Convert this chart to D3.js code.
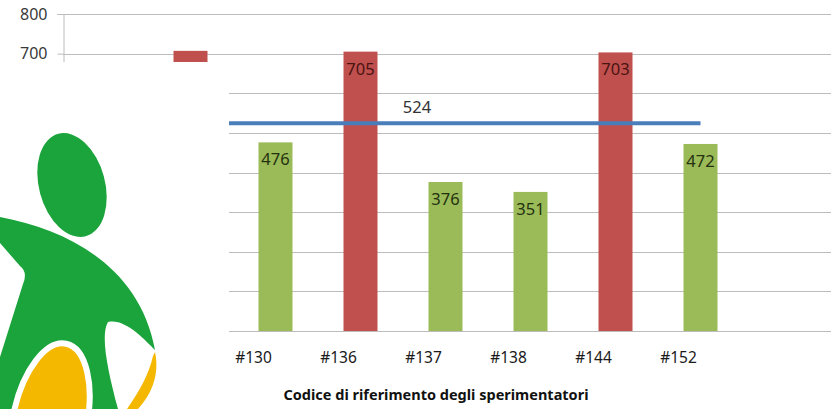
<!DOCTYPE html>
<html>
<head>
<meta charset="utf-8">
<script src="https://cdn.jsdelivr.net/npm/d3@7"></script>
<style>
  body { margin: 0; background: #fff; }
  svg { display: block; font-family: "Noto Sans", "Open Sans", sans-serif; }
</style>
</head>
<body>
<svg id="chart" width="831" height="409"></svg>
<script>
// chart data (the two first categories sit under the logo)
const tickLabels = ["", "", "#130", "#136", "#137", "#138", "#144", "#152", ""];
const values = [null, 707, 476, 705, 376, 351, 703, 472, null];
const yTicks = [0, 100, 200, 300, 400, 500, 600, 700, 800];
const average = 524;
const axisTitle = "Codice di riferimento degli sperimentatori";

const colors = {
    green: "#9bbb59",
    red: "#c0504d",
    line: "#4a7ebb",
    grid: "#bcbcbc",
    logoGreen: "#1ba43b",
    logoYellow: "#f5b800"
};

const svg = d3.select("#chart");
const plotLeft = 63, plotRight = 828, plotTop = 14, plotBottom = 331;

const x = d3.scaleBand()
    .domain(d3.range(tickLabels.length))
    .range([plotLeft, plotRight])
    .paddingInner(0.6)
    .paddingOuter(0.3);

const y = d3.scaleLinear()
    .domain([0, 800])
    .range([plotBottom, plotTop]);

// gridlines
svg.append("g")
    .selectAll("line")
    .data(yTicks)
    .join("line")
    .attr("x1", plotLeft)
    .attr("x2", 831)
    .attr("y1", d => Math.round(y(d)) + 0.5)
    .attr("y2", d => Math.round(y(d)) + 0.5)
    .attr("stroke", colors.grid)
    .attr("stroke-width", 1);

// bars: above the average in red, below in green
const bars = values.map((v, i) => ({ i, v })).filter(d => d.v != null);

svg.append("g")
    .selectAll("rect")
    .data(bars)
    .join("rect")
    .attr("x", d => x(d.i))
    .attr("width", x.bandwidth())
    .attr("y", d => y(d.v))
    .attr("height", d => y(0) - y(d.v))
    .attr("fill", d => d.v > average ? colors.red : colors.green);

// value labels only for the bars that are not hidden by the logo
svg.append("g")
    .selectAll("text")
    .data(bars.filter(d => tickLabels[d.i] !== ""))
    .join("text")
    .attr("x", d => x(d.i) + x.bandwidth() / 2)
    .attr("y", d => y(d.v) + 23)
    .attr("text-anchor", "middle")
    .attr("font-size", 16.5)
    .attr("fill", d => d.v > average ? "#4a1412" : "#24320f")
    .text(d => d.v);

// average line
const lineStart = x(0) + x.bandwidth() / 2;
const lineEnd = x(7) + x.bandwidth() / 2;
svg.append("line")
    .attr("x1", lineStart)
    .attr("x2", lineEnd)
    .attr("y1", y(average))
    .attr("y2", y(average))
    .attr("stroke", colors.line)
    .attr("stroke-width", 4);

svg.append("text")
    .attr("x", (lineStart + lineEnd) / 2 + 14)
    .attr("y", y(average) - 10)
    .attr("text-anchor", "middle")
    .attr("font-size", 16.5)
    .attr("fill", "#333")
    .text(average);

// y axis
const yAxis = svg.append("g")
    .attr("transform", `translate(${plotLeft + 0.5},0)`)
    .call(d3.axisLeft(y).tickValues(yTicks).tickSize(6).tickPadding(10));
yAxis.select(".domain").attr("stroke", colors.grid);
yAxis.selectAll(".tick line").attr("stroke", colors.grid);
yAxis.selectAll(".tick text")
    .attr("font-size", 16)
    .attr("font-family", "Noto Sans, sans-serif")
    .attr("fill", "#3a3a3a");

// x axis labels
svg.append("g")
    .selectAll("text")
    .data(tickLabels)
    .join("text")
    .attr("x", (d, i) => x(i) + x.bandwidth() / 2 - 22)
    .attr("y", 363)
    .attr("text-anchor", "middle")
    .attr("font-size", 15.5)
    .attr("fill", "#1a1a1a")
    .text(d => d);

svg.append("text")
    .attr("x", 436)
    .attr("y", 400)
    .attr("text-anchor", "middle")
    .attr("font-size", 14.5)
    .attr("font-weight", "bold")
    .attr("fill", "#111")
    .text(axisTitle);

// logo pasted over the left part of the chart
const logo = svg.append("g");
logo.append("rect")
    .attr("x", 0).attr("y", 62)
    .attr("width", 229).attr("height", 347)
    .attr("fill", "#fff");

logo.append("path")
    .attr("d", "M0,217 C70,230 140,268 155,350 C145,340 125,318 108,322 C100,335 108,372 118,409 L0,409 L0,357 L23,284 Q28,272 20,266 L0,243 Z")
    .attr("fill", colors.logoGreen);

logo.append("ellipse")
    .attr("cx", 50).attr("cy", 420)
    .attr("rx", 37).attr("ry", 78)
    .attr("transform", "rotate(12 50 420)")
    .attr("fill", colors.logoYellow)
    .attr("stroke", "#fff")
    .attr("stroke-width", 6);

logo.append("path")
    .attr("d", "M155,352 C160,375 151,395 138,409 L127,409 C139,392 149,374 153,356 Z")
    .attr("fill", colors.logoYellow);

logo.append("ellipse")
    .attr("cx", 72).attr("cy", 185)
    .attr("rx", 33).attr("ry", 53)
    .attr("transform", "rotate(-15 72 185)")
    .attr("fill", colors.logoGreen);
</script>
</body>
</html>
